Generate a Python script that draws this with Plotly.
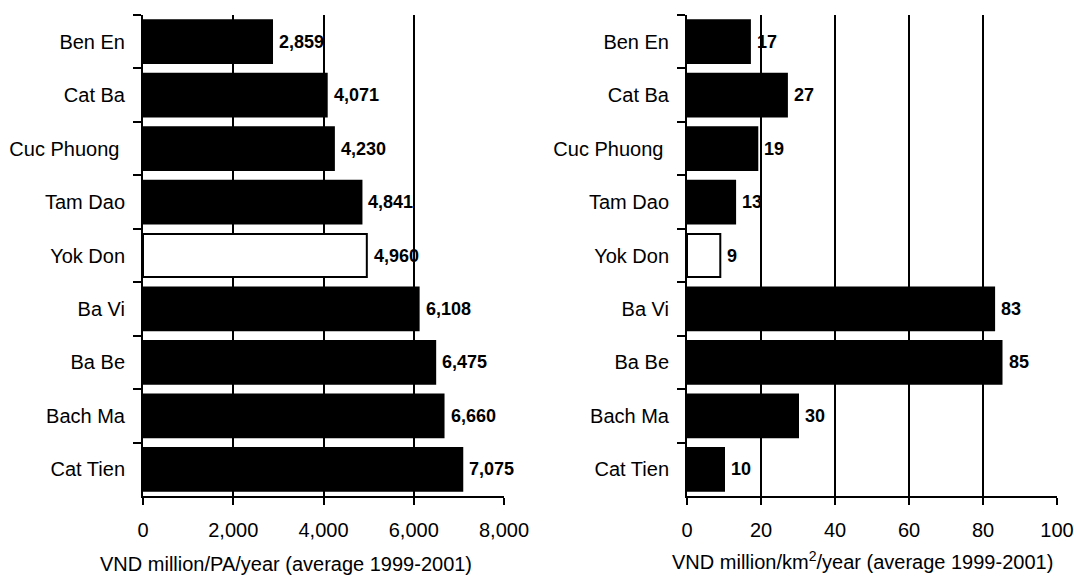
import plotly.graph_objects as go

parks = ["Ben En", "Cat Ba", "Cuc Phuong\u00a0", "Tam Dao", "Yok Don",
         "Ba Vi", "Ba Be", "Bach Ma", "Cat Tien"]
per_pa = [2859, 4071, 4230, 4841, 4960, 6108, 6475, 6660, 7075]
per_km2 = [17, 27, 19, 13, 9, 83, 85, 30, 10]
bar_colors = ["black", "black", "black", "black", "white",
              "black", "black", "black", "black"]

left_ticks = [0, 2000, 4000, 6000, 8000]
right_ticks = [0, 20, 40, 60, 80, 100]
left_title = "VND million/PA/year (average 1999-2001)"
right_title = "VND million/km<sup>2</sup>/year (average 1999-2001)"

FONT = "Liberation Sans, Arial, sans-serif"
W, H = 1074, 578

fig = go.Figure()

for vals, xa, ya, fmt in [(per_pa, "x", "y", "{:,}"), (per_km2, "x2", "y2", "{}")]:
    fig.add_trace(go.Bar(
        y=parks, x=vals, orientation="h",
        marker=dict(color=bar_colors, line=dict(color="black", width=2)),
        width=0.8, xaxis=xa, yaxis=ya, showlegend=False, hoverinfo="x+y",
    ))
    for p, v in zip(parks, vals):
        fig.add_annotation(
            x=v, y=p, xref=xa, yref=ya, text=fmt.format(v),
            showarrow=False, xanchor="left", yanchor="middle", xshift=5,
            font=dict(family=FONT, size=18, color="black", weight="bold"),
        )

ml, mr, mt, mb = 0, 0, 15, H - 496
plot_h = H - mt - mb

def dom(a, b):
    return [a / W, b / W]

TICKFONT = dict(family=FONT, size=20, color="black")
TITLEFONT = dict(family=FONT, size=20, color="black")

# axis titles (placed as paper annotations, matching reference offsets)
title_y = (496 - 564) / plot_h
for txt, cx, dy in [(left_title, 286, 0), (right_title, 862, 4)]:
    fig.add_annotation(
        x=cx / W, y=title_y, xref="paper", yref="paper", text=txt,
        showarrow=False, xanchor="center", yanchor="middle", yshift=dy,
        font=TITLEFONT,
    )

common_x = dict(
    showline=True, linecolor="black", linewidth=2,
    ticks="outside", ticklen=7, tickwidth=2, tickcolor="black",
    showgrid=True, gridcolor="black", gridwidth=2,
    zeroline=False, tickfont=TICKFONT, automargin=False,
    ticklabelstandoff=8,
)
common_y = dict(
    type="category", categoryorder="array", categoryarray=parks,
    range=[8.5, -0.5],
    showline=True, linecolor="black", linewidth=2,
    ticks="outside", ticklen=8, tickwidth=2, tickcolor="black",
    tickson="boundaries", showgrid=False, ticklabelstandoff=12,
    tickfont=TICKFONT, automargin=False,
)

fig.update_layout(
    width=W, height=H,
    margin=dict(l=ml, r=mr, t=mt, b=mb),
    paper_bgcolor="white", plot_bgcolor="white",
    font=dict(family=FONT, color="black"),
    xaxis=dict(common_x, domain=dom(143, 504), range=[0, 8000],
               tickvals=left_ticks, tickformat=",", anchor="y"),
    yaxis=dict(common_y, domain=[0, 1], anchor="x"),
    xaxis2=dict(common_x, domain=dom(687, 1057), range=[0, 100],
                tickvals=right_ticks, anchor="y2"),
    yaxis2=dict(common_y, domain=[0, 1], anchor="x2"),
)

fig.write_html(
    "out.html",
    config={"displayModeBar": False},
    post_script="document.body.style.margin='0px';document.body.style.overflow='hidden';",
)
